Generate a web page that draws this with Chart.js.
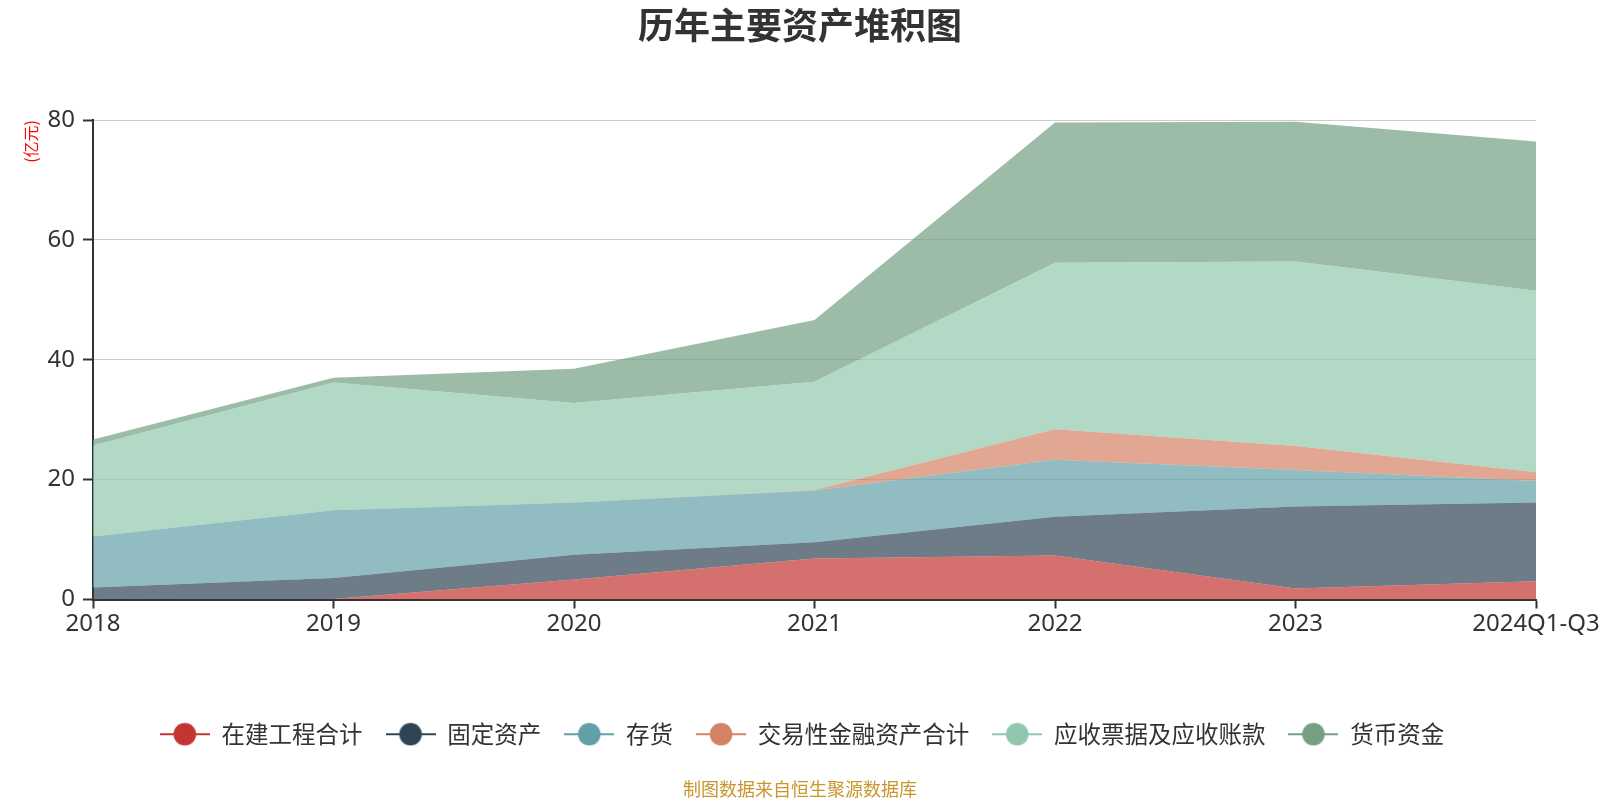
<!DOCTYPE html>
<html>
<head>
<meta charset="utf-8">
<script src="https://cdn.jsdelivr.net/npm/chart.js@4"></script>
<style>
html,body{margin:0;padding:0;background:#fff;}
canvas{display:block;}
</style>
</head>
<body>
<canvas id="c" width="1600" height="800"></canvas>
<script>
const TITLE = '历年主要资产堆积图';
const SOURCE = '制图数据来自恒生聚源数据库';
const UNIT = '(亿元)';
const categories = ['2018', '2019', '2020', '2021', '2022', '2023', '2024Q1-Q3'];
const seriesNames = ['在建工程合计', '固定资产', '存货', '交易性金融资产合计', '应收票据及应收账款', '货币资金'];
const construction = [0, 0.1, 3.34, 6.84, 7.35, 1.84, 3.06];
const fixedAssets = [2.0, 3.5, 4.12, 2.73, 6.45, 13.66, 13.14];
const inventory = [8.5, 11.3, 8.74, 8.63, 9.5, 6.1, 3.55];
const tradingFin = [0, 0, 0, 0.05, 5.1, 4.0, 1.5];
const receivables = [15.2, 21.3, 16.6, 18.1, 27.8, 30.8, 30.25];
const cash = [1.0, 0.8, 5.7, 10.3, 23.4, 23.3, 24.9];
const yTicks = [0, 20, 40, 60, 80];

const seriesValues = [construction, fixedAssets, inventory, tradingFin, receivables, cash];
const colors = ['#c23531', '#2f4554', '#61a0a8', '#d48265', '#91c7ae', '#749f83'];

function hexA(hex, a) {
  const n = parseInt(hex.slice(1), 16);
  return 'rgba(' + ((n >> 16) & 255) + ',' + ((n >> 8) & 255) + ',' + (n & 255) + ',' + a + ')';
}
function marker(color) {
  const c = document.createElement('canvas');
  c.width = 50; c.height = 24;
  const g = c.getContext('2d');
  g.strokeStyle = color; g.lineWidth = 2;
  g.beginPath(); g.moveTo(0, 12); g.lineTo(50, 12); g.stroke();
  g.fillStyle = color;
  g.beginPath(); g.arc(25, 12, 11.3, 0, Math.PI * 2); g.fill();
  return c;
}
const markers = colors.map(marker);

const datasets = seriesNames.map((name, i) => ({
  label: name,
  data: seriesValues[i],
  backgroundColor: hexA(colors[i], 0.7),
  borderColor: hexA(colors[i], 0.0),
  borderWidth: 0,
  pointRadius: 0,
  pointHoverRadius: 0,
  fill: i === 0 ? 'origin' : '-1',
  tension: 0
}));

const textPlugin = {
  id: 'texts',
  afterLayout(chart) {
    if (chart.legend) { chart.legend.left += 34; chart.legend.right += 34; }
  },
  afterDraw(chart) {
    const ctx = chart.ctx;
    ctx.save();
    ctx.textAlign = 'center';
    ctx.textBaseline = 'middle';
    ctx.fillStyle = '#333';
    ctx.font = 'bold 36px "Noto Sans CJK SC", "Noto Sans", sans-serif';
    ctx.fillText(TITLE, 800, 25);
    ctx.fillStyle = '#c8962a';
    ctx.font = '18px "Noto Sans CJK SC", "Noto Sans", sans-serif';
    ctx.fillText(SOURCE, 800, 789);
    ctx.restore();
  }
};

new Chart(document.getElementById('c'), {
  type: 'line',
  data: { labels: categories, datasets },
  plugins: [textPlugin],
  options: {
    responsive: false,
    devicePixelRatio: 1,
    animation: false,
    layout: { padding: { top: 120, left: 0, right: 64, bottom: 44 } },
    plugins: {
      title: { display: false },
      tooltip: { enabled: false },
      legend: {
        display: true,
        position: 'bottom',
        labels: {
          usePointStyle: true,
          pointStyleWidth: 50,
          boxHeight: 24,
          padding: 23,
          color: '#333',
          font: { size: 23.5, family: '"Noto Sans CJK SC", "Noto Sans", sans-serif' },
          generateLabels(chart) {
            const items = Chart.defaults.plugins.legend.labels.generateLabels(chart);
            return items.map((it, i) => Object.assign(it, { pointStyle: markers[i] }));
          }
        }
      }
    },
    scales: {
      x: {
        offset: false,
        afterFit(s) { s.height = 100; s.paddingLeft = 0; s.paddingRight = 0; },
        grid: { drawOnChartArea: false, drawTicks: true, tickLength: 9, tickColor: '#333', tickWidth: 2, color: '#333' },
        border: { display: true, color: '#333', width: 2 },
        ticks: { color: '#333', padding: 1, maxRotation: 0, autoSkip: false, font: { size: 24, family: '"Noto Sans", sans-serif' } }
      },
      y: {
        stacked: true,
        min: 0,
        max: 80,
        afterFit(s) { s.width = 93; },
        afterBuildTicks(s) { s.ticks = yTicks.map(v => ({ value: v })); },
        grid: {
          color: (c) => (c.tick && c.tick.value === 0) ? 'rgba(0,0,0,0)' : '#ccc',
          lineWidth: 1,
          tickLength: 10,
          tickColor: '#333',
          tickWidth: 2
        },
        border: { display: true, color: '#333', width: 2 },
        ticks: { color: '#333', padding: 8, font: { size: 24, family: '"Noto Sans", sans-serif' } },
        title: {
          display: true,
          text: UNIT,
          align: 'end',
          color: '#ff0000',
          padding: { top: 21, bottom: 0 },
          font: { size: 16, family: '"Noto Sans CJK SC", sans-serif' }
        }
      }
    }
  }
});
</script>
</body>
</html>
